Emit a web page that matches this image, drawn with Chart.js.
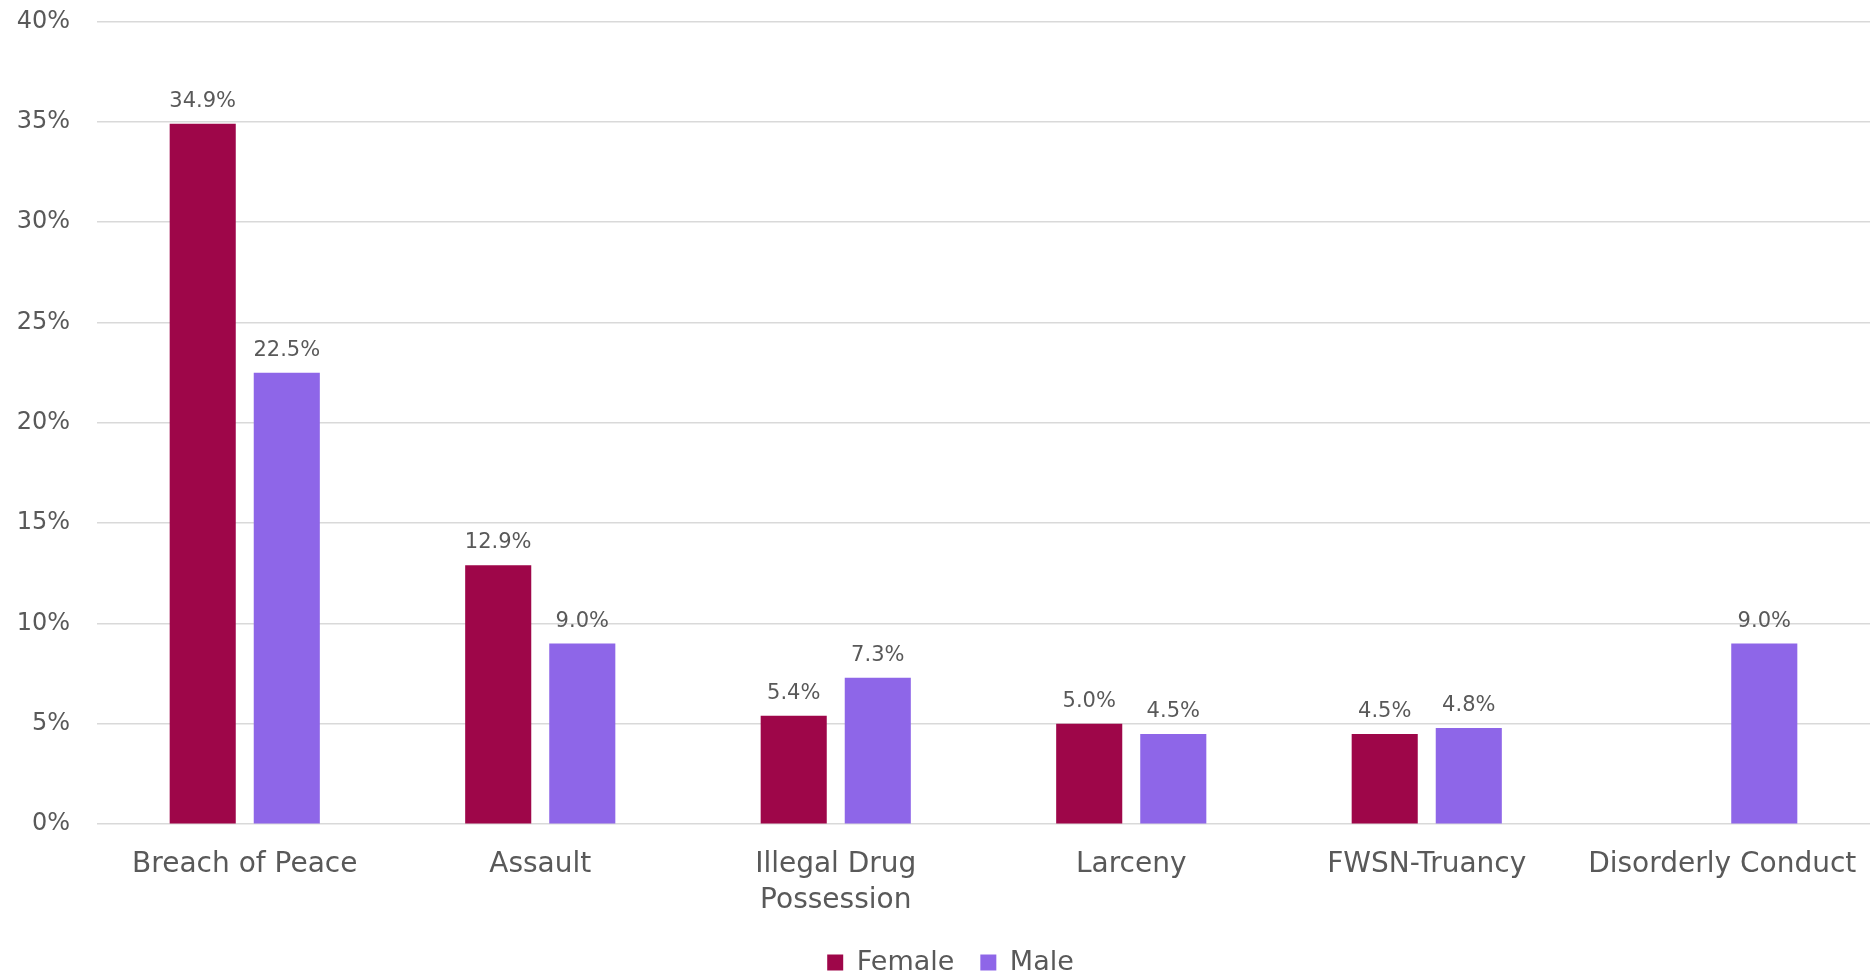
<!DOCTYPE html>
<html>
<head>
<meta charset="utf-8">
<script src="https://cdn.jsdelivr.net/npm/chart.js@4/dist/chart.umd.min.js"></script>
<style>
	html, body { margin: 0; padding: 0; background: #fff; }
	#wrap { width: 1875px; height: 973px; }
</style>
</head>
<body>
<div id="wrap"><canvas id="offenseChart"></canvas></div>
<script>
// chart data
const categories = ["Breach of Peace", "Assault", ["Illegal Drug", "Possession"], "Larceny", "FWSN-Truancy", "Disorderly Conduct"];
const femaleValues = [34.9, 12.9, 5.4, 5.0, 4.5, null];
const maleValues = [22.5, 9.0, 7.3, 4.5, 4.8, 9.0];
const yTicks = [0, 5, 10, 15, 20, 25, 30, 35, 40];

const textColor = "#595959";
const fontFamily = "'DejaVu Sans', sans-serif";

// keeps the legend compact and moves it where the original has it
const legendPlacement = {
	id: 'legendPlacement',
	afterInit(chart) {
		const legend = chart.legend;
		const origFit = legend.fit.bind(legend);
		legend.fit = function () {
			origFit();
			this.height = 40;
		};
	},
	afterLayout(chart) {
		chart.legend.left += 13;
		chart.legend.right += 13;
		chart.legend.top -= 10;
		chart.legend.bottom = chart.height;
	}
};

// draws the value above each bar
const valueLabels = {
	id: 'valueLabels',
	afterDatasetsDraw(chart) {
		const ctx = chart.ctx;
		ctx.save();
		ctx.font = `21px ${fontFamily}`;
		ctx.fillStyle = textColor;
		ctx.textAlign = 'center';
		ctx.textBaseline = 'alphabetic';
		chart.data.datasets.forEach((ds, i) => {
			const meta = chart.getDatasetMeta(i);
			meta.data.forEach((bar, j) => {
				const v = ds.data[j];
				if (v === null || v === undefined)
					return;
				ctx.fillText(v.toFixed(1) + '%', bar.x, bar.y - 17);
			});
		});
		ctx.restore();
	}
};

new Chart(document.getElementById('offenseChart'), {
	type: 'bar',
	data: {
		labels: categories,
		datasets: [{
			label: 'Female',
			data: femaleValues,
			backgroundColor: '#9E0649',
			categoryPercentage: 0.569,
			barPercentage: 0.786
		},
		{
			label: 'Male',
			data: maleValues,
			backgroundColor: '#8E66E8',
			categoryPercentage: 0.569,
			barPercentage: 0.786
		}]
	},
	options: {
		responsive: true,
		maintainAspectRatio: false,
		animation: false,
		layout: { padding: { left: 5, right: 5, top: 0, bottom: 0 } },
		plugins: {
			tooltip: { enabled: false },
			legend: {
				position: 'bottom',
				labels: {
					color: textColor,
					font: { family: fontFamily, size: 27 },
					boxWidth: 16,
					boxHeight: 16,
					padding: 26
				}
			}
		},
		scales: {
			x: {
				grid: { display: false },
				border: { display: false },
				ticks: {
					color: textColor,
					font: { family: fontFamily, size: 28, lineHeight: 1.3 },
					padding: 14,
					maxRotation: 0,
					autoSkip: false
				}
			},
			y: {
				min: 0,
				max: 40,
				afterBuildTicks(scale) {
					scale.ticks = yTicks.map(v => ({ value: v }));
				},
				afterFit(scale) {
					scale.width = 92;
					scale.paddingTop = 21.5;
					scale.paddingBottom = 14;
				},
				grid: { color: '#d9d9d9', lineWidth: 1.5, drawTicks: false },
				border: { display: false },
				ticks: {
					color: textColor,
					font: { family: fontFamily, size: 24 },
					padding: 27,
					callback: v => v + '%'
				}
			}
		}
	},
	plugins: [legendPlacement, valueLabels]
});
</script>
</body>
</html>
